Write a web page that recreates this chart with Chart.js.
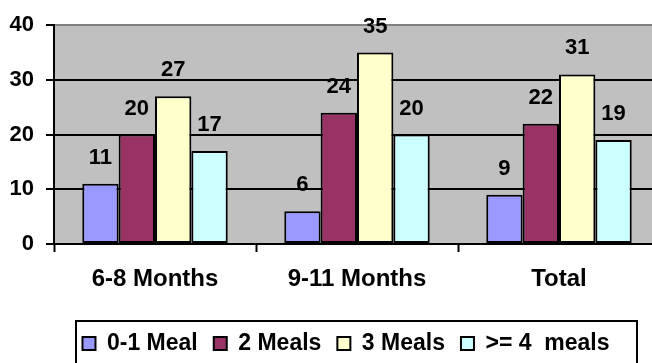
<!DOCTYPE html>
<html>
<head>
<meta charset="utf-8">
<script src="https://cdn.jsdelivr.net/npm/chart.js@4/dist/chart.umd.min.js"></script>
<style>
  html, body { margin: 0; padding: 0; background: #ffffff; overflow: hidden; }
  #wrap { width: 660px; height: 365px; position: relative; }
</style>
</head>
<body>
<div id="wrap"><canvas id="chart"></canvas></div>
<script>
// Meals per day by age group (%)
const categories = ['6-8 Months', '9-11 Months', 'Total'];
const seriesNames = ['0-1 Meal', '2 Meals', '3 Meals', '>= 4  meals'];
const meals01 = [11, 6, 9];
const meals2 = [20, 24, 22];
const meals3 = [27, 35, 31];
const meals4plus = [17, 20, 19];
const yTickValues = [0, 10, 20, 30, 40];

const seriesValues = [meals01, meals2, meals3, meals4plus];
const seriesColors = ['#9999FF', '#993366', '#FFFFCC', '#CCFFFF'];

const FONT = '"Liberation Sans", Arial, Helvetica, sans-serif';

// grey plot area behind the bars
const plotBackground = {
  id: 'plotBackground',
  beforeDraw(chart) {
    const { ctx, chartArea: a } = chart;
    ctx.save();
    ctx.fillStyle = '#C0C0C0';
    ctx.fillRect(a.left, a.top, a.right - a.left, a.bottom - a.top);
    ctx.restore();
  }
};

// legend row sits a little right of the canvas centre
const legendOffset = {
  id: 'legendOffset',
  afterLayout(chart) {
    const lg = chart.legend;
    if (!lg) return;
    lg.left = 32;
    lg.width = lg.right - lg.left;
  }
};

// value printed above every bar
const valueLabels = {
  id: 'valueLabels',
  afterDatasetsDraw(chart) {
    const ctx = chart.ctx;
    ctx.save();
    ctx.font = 'bold 22px ' + FONT;
    ctx.fillStyle = '#000000';
    ctx.textAlign = 'center';
    ctx.textBaseline = 'middle';
    chart.data.datasets.forEach((ds, i) => {
      chart.getDatasetMeta(i).data.forEach((bar, j) => {
        ctx.fillText(String(ds.data[j]), bar.x, bar.y - 26);
      });
    });
    ctx.restore();
  }
};

// frame around the legend
const legendFrame = {
  id: 'legendFrame',
  afterDraw(chart) {
    const lg = chart.legend;
    if (!lg || !lg.legendHitBoxes || !lg.legendHitBoxes.length) return;
    const ctx = chart.ctx;
    const top = lg.legendHitBoxes[0].top - 11;
    const left = lg.left + 44;
    const right = lg.right - 23;
    ctx.save();
    ctx.strokeStyle = '#000000';
    ctx.lineWidth = 2;
    ctx.strokeRect(left, top, right - left, chart.height + 10 - top);
    ctx.restore();
  }
};

new Chart(document.getElementById('chart'), {
  type: 'bar',
  data: {
    labels: categories,
    datasets: seriesNames.map((name, i) => ({
      label: name,
      data: seriesValues[i],
      backgroundColor: seriesColors[i],
      borderColor: '#000000',
      borderWidth: 2,
      borderSkipped: false,
      categoryPercentage: 0.72,
      barPercentage: 1.0
    }))
  },
  options: {
    responsive: true,
    maintainAspectRatio: false,
    animation: false,
    layout: { padding: { top: 21, left: 0, right: 0, bottom: 0 } },
    plugins: {
      tooltip: { enabled: false },
      legend: {
        display: true,
        position: 'bottom',
        labels: {
          color: '#000000',
          font: { family: FONT, size: 23, weight: 'bold' },
          boxWidth: 13,
          boxHeight: 13,
          padding: 16
        }
      }
    },
    scales: {
      x: {
        offset: true,
        afterFit(scale) { scale.height = 72; },
        grid: {
          offset: true,
          drawOnChartArea: false,
          drawTicks: true,
          tickLength: 8,
          tickColor: '#000000',
          tickWidth: 2
        },
        border: { display: true, color: '#000000', width: 2 },
        ticks: {
          color: '#000000',
          padding: 13,
          font: { family: FONT, size: 24, weight: 'bold' }
        }
      },
      y: {
        min: 0,
        max: 40,
        afterFit(scale) { scale.width = 54; },
        afterBuildTicks(scale) { scale.ticks = yTickValues.map(v => ({ value: v })); },
        grid: {
          color: ctx => (ctx.tick && ctx.tick.value === 40 ? '#808080' : '#000000'),
          lineWidth: 2,
          drawTicks: true,
          tickLength: 8,
          tickColor: '#000000',
          tickWidth: 2
        },
        border: { display: true, color: '#000000', width: 2 },
        ticks: {
          color: '#000000',
          padding: 12,
          font: { family: FONT, size: 22, weight: 'bold' }
        }
      }
    }
  },
  plugins: [plotBackground, legendOffset, valueLabels, legendFrame]
});
</script>
</body>
</html>
